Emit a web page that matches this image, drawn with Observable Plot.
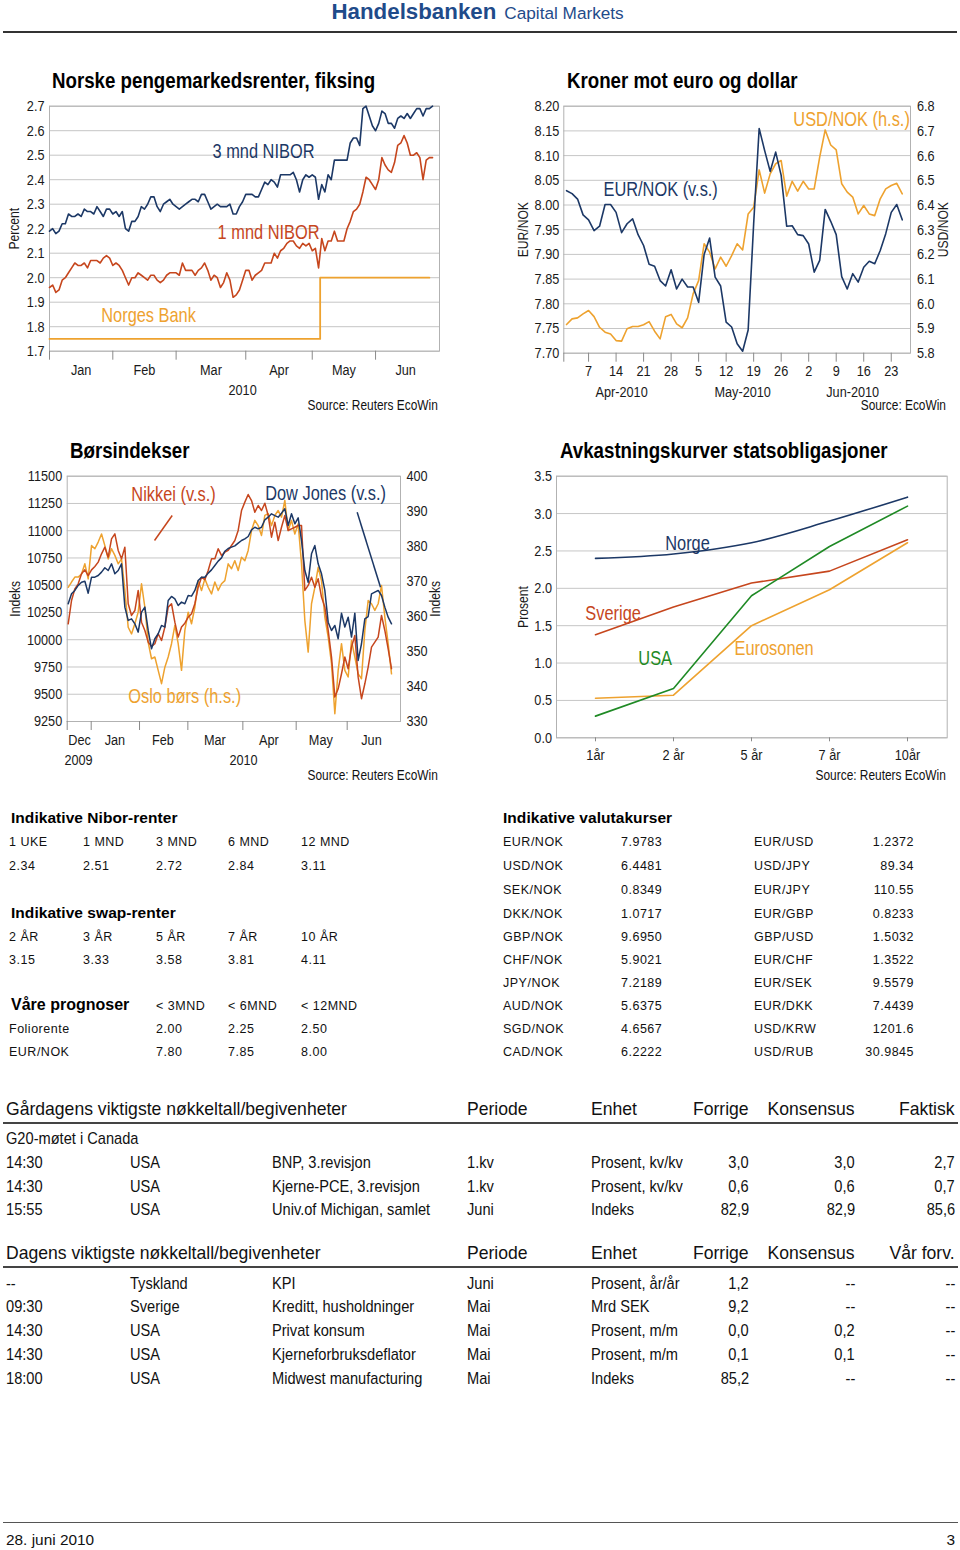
<!DOCTYPE html>
<html><head><meta charset="utf-8">
<script src="https://cdn.jsdelivr.net/npm/d3@7"></script>
<script src="https://cdn.jsdelivr.net/npm/@observablehq/plot@0.6"></script>
<style>
html,body{margin:0;padding:0;background:#fff;}
#page{position:relative;width:960px;height:1550px;overflow:hidden;background:#fff;}
.t{position:absolute;white-space:nowrap;line-height:1;}
.chart{position:absolute;}
</style></head><body><div id="page"></div>
<script>
// ---------------- DATA ----------------
// Chart 1: Norske pengemarkedsrenter (business-day samples, Jan-Jun 2010)
const nibor3m = [2.19,2.20,2.18,2.19,2.22,2.22,2.26,2.25,2.25,2.26,
2.25,2.28,2.27,2.27,2.26,2.29,2.27,2.25,2.28,2.28,
2.26,2.27,2.25,2.27,2.20,2.19,2.23,2.23,2.25,2.29,
2.28,2.30,2.33,2.33,2.29,2.27,2.30,2.31,2.32,2.30,
2.29,2.28,2.29,2.30,2.31,2.32,2.32,2.31,2.34,2.34,
2.31,2.28,2.29,2.30,2.29,2.29,2.29,2.30,2.26,2.26,
2.29,2.31,2.34,2.34,2.34,2.33,2.33,2.36,2.39,2.38,
2.40,2.39,2.37,2.42,2.42,2.42,2.42,2.43,2.40,2.35,
2.40,2.42,2.41,2.42,2.41,2.32,2.38,2.35,2.42,2.40,
2.48,2.48,2.48,2.48,2.48,2.55,2.57,2.57,2.54,2.69,
2.70,2.66,2.62,2.60,2.63,2.68,2.67,2.63,2.63,2.61,
2.65,2.66,2.65,2.67,2.65,2.67,2.69,2.69,2.66,2.69,
2.69,2.70];
const nibor1m = [1.96,1.97,1.94,1.95,1.99,2.00,2.02,2.04,2.06,2.05,
2.05,2.06,2.04,2.07,2.07,2.07,2.06,2.08,2.09,2.08,
2.05,2.06,2.05,2.03,2.00,1.97,2.00,2.00,2.02,2.01,
2.00,1.99,2.01,2.01,1.99,1.98,1.99,2.01,2.02,2.02,
2.02,2.01,2.06,2.03,2.03,2.03,2.01,2.03,2.04,2.06,
2.03,1.99,2.01,2.00,1.96,1.98,2.02,1.99,1.92,1.93,
1.95,1.99,2.03,2.03,1.99,2.01,2.02,2.03,2.06,2.06,
2.06,2.10,2.08,2.11,2.12,2.14,2.15,2.15,2.13,2.12,
2.14,2.13,2.14,2.11,2.12,2.04,2.16,2.11,2.15,2.15,
2.19,2.15,2.15,2.15,2.20,2.23,2.27,2.28,2.30,2.35,
2.41,2.40,2.38,2.36,2.40,2.49,2.46,2.44,2.43,2.47,
2.54,2.55,2.58,2.55,2.50,2.50,2.51,2.49,2.40,2.48,
2.49,2.49];
const normsDays = [0, 85.5, 120];          // business-day index of rate changes
const normsRate = [1.75, 2.00, 2.00];      // Norges Bank key rate
const yTicks1 = [1.7,1.8,1.9,2.0,2.1,2.2,2.3,2.4,2.5,2.6,2.7];
const monthStarts1 = [0, 20, 40, 62, 83, 103];
const monthMid1 = [10, 30, 51, 72.5, 93, 112.5];
const monthLabels1 = ["Jan","Feb","Mar","Apr","May","Jun"];

// Chart 2: Kroner mot euro og dollar (business days 1 Apr - 25 Jun 2010)
const eurnok = [8.029,8.023,8.012,7.98,7.97,7.948,7.957,8.001,8.001,7.985,
7.944,7.962,7.972,7.94,7.918,7.88,7.876,7.847,7.836,7.869,
7.83,7.85,7.834,7.834,7.803,7.90,7.933,7.854,7.836,7.763,
7.753,7.719,7.704,7.747,7.962,8.155,8.11,8.068,8.107,8.06,
7.957,7.958,7.94,7.938,7.921,7.864,7.888,7.991,7.967,7.94,
7.855,7.83,7.861,7.844,7.874,7.886,7.881,7.908,7.942,7.985,
8.001,7.97];
const usdnok = [5.916,5.939,5.943,5.959,5.973,5.948,5.905,5.885,5.878,5.851,
5.849,5.899,5.908,5.908,5.915,5.928,5.889,5.858,5.948,5.957,
5.919,5.903,5.943,6.04,6.094,6.243,6.209,6.141,6.189,6.152,
6.195,6.243,6.218,6.364,6.391,6.542,6.448,6.526,6.567,6.58,
6.436,6.496,6.456,6.496,6.465,6.465,6.594,6.704,6.643,6.623,
6.486,6.452,6.432,6.364,6.398,6.364,6.357,6.425,6.465,6.479,
6.488,6.445];
const eurTicks = [7.70,7.75,7.80,7.85,7.90,7.95,8.00,8.05,8.10,8.15,8.20];
const usdTicks = [5.8,5.9,6.0,6.1,6.2,6.3,6.4,6.5,6.6,6.7,6.8];
const weekPos = [4,9,14,19,24,29,34,39,44,49,54,59];
const weekLabels = ["7","14","21","28","5","12","19","26","2","9","16","23"];
const monthPos2 = [10, 32, 52];
const monthLabels2 = ["Apr-2010","May-2010","Jun-2010"];

// Chart 3: Børsindekser (Dec 2009 - Jun 2010)
const dowJones = [10330,10421,10452,10498,10528,10537,10427,10574,10574,10589,
10620,10660,10635,10696,10605,10635,10696,10299,10177,10192,
10146,10070,10253,10299,10085,9917,10009,10055,10131,10116,
10360,10397,10375,10314,10345,10330,10406,10400,10452,10543,
10574,10574,10611,10641,10681,10721,10751,10812,10837,10849,
10861,10886,10910,10925,10947,11008,11032,11017,11032,11100,
11124,11155,11139,11124,11161,11201,11048,11155,11063,11118,
10910,10635,10528,10788,10864,10696,10605,10452,10161,10085,
10131,10009,10244,10116,10207,10024,10244,9810,9963,10192,
10213,10421,10437,10452,10406,10299,10207,10146];
const nikkei = [10146,10360,10467,10513,10605,10641,10589,10641,10672,10712,
10788,10849,10757,10925,10971,10819,10742,10849,10330,10223,
10268,10452,10161,10085,9978,9938,9963,10055,9993,10116,
10299,10330,10161,10024,10116,10152,10207,10238,10330,10482,
10574,10550,10635,10742,10742,10834,10773,10803,10819,10864,
10910,11002,11185,11262,11332,11277,11170,11231,11185,11252,
11139,10941,11078,10910,11032,11139,11002,11017,11032,11048,
11048,10452,10498,10574,10482,10559,10391,10299,10085,9841,
9474,9550,9688,9841,9734,9932,10039,9657,9459,9596,
9749,9932,9978,10024,10223,10085,9917,9734];
const osloBors = [368.3,369.8,371.2,371.2,372.1,375.0,370.7,380.2,379.3,381.2,
383.5,380.2,376.4,379.3,377.4,375.0,376.4,367.4,356.9,355.0,
357.9,361.2,369.3,362.6,352.6,347.9,348.4,344.6,340.8,345.5,
348.4,352.2,357.4,352.2,344.6,356.0,361.2,357.9,362.6,370.2,
367.4,370.7,368.3,366.4,369.8,367.4,369.3,370.2,375.0,373.6,
375.9,373.1,376.9,375.9,378.8,384.5,387.4,385.9,383.1,388.8,
389.3,385.9,388.8,390.2,388.3,393.1,384.5,387.4,383.5,386.4,
375.0,358.8,349.8,363.6,368.3,374.0,370.2,359.8,354.1,346.5,
332.2,344.6,352.2,344.6,342.7,353.1,348.4,343.6,342.2,356.0,
364.5,363.6,361.7,363.6,368.8,359.8,352.2,343.6];
const leftTicks3 = [9250,9500,9750,10000,10250,10500,10750,11000,11250,11500];
const rightTicks3 = [330,340,350,360,370,380,390,400];
const monthStarts3 = [-0.3, 6.9, 21.4, 35.9, 52.4, 68.4, 83.7];
const monthMid3 = [3.4, 14, 28.4, 44, 60.2, 75.8, 91];
const monthLabels3 = ["Dec","Jan","Feb","Mar","Apr","May","Jun"];
const yearPos3 = [3.1, 52.6];
const yearLabels3 = ["2009","2010"];

// Chart 4: Avkastningskurver statsobligasjoner
const tenors = ["1år","2 år","5 år","7 år","10år"];
const yieldNorge = [2.40,2.46,2.61,2.90,3.22];
const yieldSverige = [1.38,1.75,2.07,2.23,2.65];
const yieldUSA = [0.29,0.66,1.90,2.56,3.10];
const yieldEuro = [0.53,0.57,1.50,1.98,2.61];
const yTicks4 = [0,0.5,1.0,1.5,2.0,2.5,3.0,3.5];

// Tables
const niborHead = ["1 UKE","1 MND","3 MND","6 MND","12 MND"];
const niborVals = ["2.34","2.51","2.72","2.84","3.11"];
const swapHead = ["2 ÅR","3 ÅR","5 ÅR","7 ÅR","10 ÅR"];
const swapVals = ["3.15","3.33","3.58","3.81","4.11"];
const progHead = ["< 3MND","< 6MND","< 12MND"];
const progRows = [["Foliorente","2.00","2.25","2.50"],["EUR/NOK","7.80","7.85","8.00"]];
const fxLeft = [["EUR/NOK","7.9783"],["USD/NOK","6.4481"],["SEK/NOK","0.8349"],["DKK/NOK","1.0717"],["GBP/NOK","9.6950"],["CHF/NOK","5.9021"],["JPY/NOK","7.2189"],["AUD/NOK","5.6375"],["SGD/NOK","4.6567"],["CAD/NOK","6.2222"]];
const fxRight = [["EUR/USD","1.2372"],["USD/JPY","89.34"],["EUR/JPY","110.55"],["EUR/GBP","0.8233"],["GBP/USD","1.5032"],["EUR/CHF","1.3522"],["EUR/SEK","9.5579"],["EUR/DKK","7.4439"],["USD/KRW","1201.6"],["USD/RUB","30.9845"]];
const yHead = ["Gårdagens viktigste nøkkeltall/begivenheter","Periode","Enhet","Forrige","Konsensus","Faktisk"];
const yNote = "G20-møtet i Canada";
const yRows = [["14:30","USA","BNP, 3.revisjon","1.kv","Prosent, kv/kv","3,0","3,0","2,7"],
["14:30","USA","Kjerne-PCE, 3.revisjon","1.kv","Prosent, kv/kv","0,6","0,6","0,7"],
["15:55","USA","Univ.of Michigan, samlet","Juni","Indeks","82,9","82,9","85,6"]];
const tHead = ["Dagens viktigste nøkkeltall/begivenheter","Periode","Enhet","Forrige","Konsensus","Vår forv."];
const tRows = [["--","Tyskland","KPI","Juni","Prosent, år/år","1,2","--","--"],
["09:30","Sverige","Kreditt, husholdninger","Mai","Mrd SEK","9,2","--","--"],
["14:30","USA","Privat konsum","Mai","Prosent, m/m","0,0","0,2","--"],
["14:30","USA","Kjerneforbruksdeflator","Mai","Prosent, m/m","0,1","0,1","--"],
["18:00","USA","Midwest manufacturing","Mai","Indeks","85,2","--","--"]];

// ---------------- STYLE ----------------
const NAVY = "#1c3866", RED = "#c6461d", ORANGE = "#eea22f", GREEN = "#1f8a25";
const GRID = "#c6c6c6", FRAME = "#b2b2b2", TICK = "#8a8a8a";
const SANS = "'Liberation Sans',Arial,Helvetica,sans-serif";
const NARROWK = 0.82;   // Arial Narrow ~ Arial scaled horizontally
const page = document.getElementById("page");

function put(str, x, y, o = {}) {
  const d = document.createElement("div");
  d.className = "t";
  d.textContent = str;
  const k = o.k || 1;
  const align = o.align || "left";
  let css = `top:${y}px;font-family:${o.family || SANS};font-size:${o.size || 15}px;font-weight:${o.weight || "normal"};color:${o.color || "#111"};letter-spacing:${o.ls || 0}px;`;
  if (align === "left") css += `left:${x}px;transform-origin:0 50%;transform:translateY(-50%) scaleX(${k});`;
  else if (align === "right") css += `right:${960 - x}px;transform-origin:100% 50%;transform:translateY(-50%) scaleX(${k});`;
  else css += `left:${x}px;transform-origin:50% 50%;transform:translate(-50%,-50%) scaleX(${k});`;
  d.style.cssText += css;
  page.appendChild(d);
  return d;
}
function hline(x1, x2, y, w, c) {
  const d = document.createElement("div");
  d.style.cssText = `position:absolute;left:${x1}px;top:${y}px;width:${x2 - x1}px;height:${w}px;background:${c};`;
  page.appendChild(d);
}
// squeeze SVG text horizontally about its anchor (narrow sans look)
function condense(svg, k) {
  svg.querySelectorAll("text").forEach(t => {
    if (t.closest('[aria-label="axistitle"]')) return;
    const xa = t.getAttribute("x"), ya = t.getAttribute("y");
    let tr = t.getAttribute("transform") || "";
    const x = parseFloat(xa), y = parseFloat(ya);
    if ((xa && !isNaN(x) && !/em/.test(xa)) || (ya && !isNaN(y) && !/em/.test(ya))) {
      tr += ` translate(${isNaN(x) ? 0 : x},${isNaN(y) ? 0 : y})`;
      t.removeAttribute("x"); t.removeAttribute("y");
    }
    t.setAttribute("transform", `${tr} scale(${k},1)`);
  });
  return svg;
}
function placeChart(svg, left, top) {
  const d = document.createElement("div");
  d.className = "chart";
  d.style.left = left + "px"; d.style.top = top + "px";
  d.appendChild(condense(svg, NARROWK));
  page.appendChild(d);
}
const plotStyle = {fontFamily: SANS, fontSize: "15.5px", color: "#1a1a1a", background: "transparent", overflow: "visible"};
const lab = (arr, pos) => { const m = new Map(pos.map((p, i) => [p, arr[i]])); return d => m.get(d); };
function annot(t, x, y, color, extra = {}) {
  return Plot.text([{t, x, y}], {x: "x", y: "y", text: "t", fill: color, fontSize: 20, ...extra});
}
function axisTitle(t, anchor, dx) {
  return Plot.text([t], {text: d => d, frameAnchor: anchor, rotate: -90, dx, fontSize: 14.8, textAnchor: "middle", lineAnchor: "middle", ariaLabel: "axistitle"});
}
function belowText(labels, pos, dy) {
  return Plot.text(labels, {x: (d, i) => pos[i], text: d => d, frameAnchor: "bottom", dy, lineAnchor: "middle", textAnchor: "middle"});
}

// ---------------- CHART 1 ----------------
const c1 = Plot.plot({
  width: 480, height: 320, marginLeft: 49, marginRight: 41, marginTop: 10.7, marginBottom: 64.3,
  style: plotStyle,
  x: {domain: [0, 123.2], label: null},
  y: {domain: [1.7, 2.7], label: null},
  marks: [
    Plot.gridY(yTicks1, {stroke: GRID, strokeOpacity: 1}),
    Plot.frame({stroke: FRAME}),
    Plot.axisY(yTicks1, {tickSize: 0, tickPadding: 5, tickFormat: d3.format(".1f"), label: null}),
    Plot.axisX(monthStarts1, {tickSize: 9, tickFormat: () => "", stroke: TICK, label: null}),
    Plot.axisX(monthMid1, {tickSize: 0, tickPadding: 13, tickFormat: lab(monthLabels1, monthMid1), label: null}),
    belowText(["2010"], [61], 39),
    axisTitle("Percent", "left", -35),
    Plot.line(normsRate, {x: (d, i) => normsDays[i], y: d => d, curve: "step-after", stroke: ORANGE, strokeWidth: 1.8}),
    Plot.line(nibor1m, {x: (d, i) => i, y: d => d, stroke: RED, strokeWidth: 1.6}),
    Plot.line(nibor3m, {x: (d, i) => i, y: d => d, stroke: NAVY, strokeWidth: 1.6}),
    annot("3 mnd NIBOR", 67.6, 2.515, NAVY),
    annot("1 mnd NIBOR", 69.2, 2.184, RED),
    annot("Norges Bank", 31.3, 1.846, ORANGE)
  ]
});
placeChart(c1, 0, 95);

// ---------------- CHART 2 ----------------
const usdToEur = v => 7.70 + (v - 5.8) * 0.5;
const eurToUsd = v => 5.8 + (v - 7.70) * 2;
const c2 = Plot.plot({
  width: 480, height: 320, marginLeft: 83.3, marginRight: 50, marginTop: 10.7, marginBottom: 62.3,
  style: plotStyle,
  x: {domain: [-0.5, 62.5], label: null},
  y: {domain: [7.70, 8.20], label: null},
  marks: [
    Plot.gridY(eurTicks, {stroke: GRID, strokeOpacity: 1}),
    Plot.frame({stroke: FRAME}),
    Plot.axisY(eurTicks, {tickSize: 0, tickPadding: 4.5, tickFormat: d3.format(".2f"), label: null}),
    Plot.axisY(usdTicks.map(usdToEur), {anchor: "right", tickSize: 0, tickPadding: 6.5, tickFormat: d => eurToUsd(d).toFixed(1), label: null}),
    Plot.axisX([-0.5, ...weekPos], {tickSize: 9, tickFormat: () => "", stroke: TICK, label: null}),
    Plot.axisX(weekPos, {tickSize: 0, tickPadding: 12, tickFormat: lab(weekLabels, weekPos), label: null}),
    belowText(monthLabels2, monthPos2, 39),
    axisTitle("EUR/NOK", "left", -40.6),
    axisTitle("USD/NOK", "right", 33),
    Plot.line(usdnok, {x: (d, i) => i, y: d => usdToEur(d), stroke: ORANGE, strokeWidth: 1.6}),
    Plot.line(eurnok, {x: (d, i) => i, y: d => d, stroke: NAVY, strokeWidth: 1.6}),
    annot("EUR/NOK (v.s.)", 17.1, 8.031, NAVY),
    annot("USD/NOK (h.s.)", 51.8, 8.173, ORANGE)
  ]
});
placeChart(c2, 480, 95);

// ---------------- CHART 3 ----------------
const osloToLeft = v => 9250 + (v - 330) * 2250 / 70;
const leftToOslo = v => 330 + (v - 9250) * 70 / 2250;
const c3 = Plot.plot({
  width: 480, height: 320, marginLeft: 66.7, marginRight: 80, marginTop: 10.7, marginBottom: 64,
  style: plotStyle,
  x: {domain: [-0.3, 99.7], label: null},
  y: {domain: [9250, 11500], label: null},
  marks: [
    Plot.gridY(leftTicks3, {stroke: GRID, strokeOpacity: 1}),
    Plot.frame({stroke: FRAME}),
    Plot.axisY(leftTicks3, {tickSize: 0, tickPadding: 5, tickFormat: d => String(d), label: null}),
    Plot.axisY(rightTicks3.map(osloToLeft), {anchor: "right", tickSize: 0, tickPadding: 6, tickFormat: d => String(Math.round(leftToOslo(d))), label: null}),
    Plot.axisX(monthStarts3, {tickSize: 9, tickFormat: () => "", stroke: TICK, label: null}),
    Plot.axisX(monthMid3, {tickSize: 0, tickPadding: 12.5, tickFormat: lab(monthLabels3, monthMid3), label: null}),
    belowText(yearLabels3, yearPos3, 39),
    axisTitle("Indeks", "left", -51.7),
    axisTitle("Indeks", "right", 35),
    Plot.line(osloBors, {x: (d, i) => i, y: d => osloToLeft(d), stroke: ORANGE, strokeWidth: 1.5}),
    Plot.line(nikkei, {x: (d, i) => i, y: d => d, stroke: RED, strokeWidth: 1.5}),
    Plot.line(dowJones, {x: (d, i) => i, y: d => d, stroke: NAVY, strokeWidth: 1.5}),
    Plot.link([{x1: 31.2, y1: 11139, x2: 25.9, y2: 10910}], {x1: "x1", y1: "y1", x2: "x2", y2: "y2", stroke: RED, strokeWidth: 1.5}),
    Plot.link([{x1: 86.7, y1: 11170, x2: 93.7, y2: 10482}], {x1: "x1", y1: "y1", x2: "x2", y2: "y2", stroke: NAVY, strokeWidth: 1.5}),
    annot("Nikkei (v.s.)", 31.6, 11332, RED),
    annot("Dow Jones (v.s.)", 77.2, 11341, NAVY),
    annot("Oslo børs (h.s.)", 34.95, 9479, ORANGE)
  ]
});
placeChart(c3, 0, 465);

// ---------------- CHART 4 ----------------
const c4 = Plot.plot({
  width: 480, height: 320, marginLeft: 76, marginRight: 13.3, marginTop: 10.7, marginBottom: 47.7,
  style: plotStyle,
  x: {type: "point", domain: tenors, padding: 0.5, label: null},
  y: {domain: [0, 3.5], label: null},
  marks: [
    Plot.gridY(yTicks4, {stroke: GRID, strokeOpacity: 1}),
    Plot.frame({stroke: FRAME}),
    Plot.axisY(yTicks4, {tickSize: 0, tickPadding: 4.5, tickFormat: d3.format(".1f"), label: null}),
    Plot.axisX(tenors, {tickSize: 4, tickPadding: 7, stroke: TICK, label: null}),
    axisTitle("Prosent", "left", -33.3),
    Plot.line(yieldEuro, {x: (d, i) => tenors[i], y: d => d, stroke: ORANGE, strokeWidth: 1.6}),
    Plot.line(yieldSverige, {x: (d, i) => tenors[i], y: d => d, stroke: RED, strokeWidth: 1.6}),
    Plot.line(yieldUSA, {x: (d, i) => tenors[i], y: d => d, stroke: GREEN, strokeWidth: 1.6}),
    Plot.line(yieldNorge, {x: (d, i) => tenors[i], y: d => d, stroke: NAVY, strokeWidth: 1.6, curve: "monotone-x"}),
    Plot.text([{t: "Norge", x: "2 år", y: 2.596}], {x: "x", y: "y", text: "t", fill: NAVY, fontSize: 20, dx: 14}),
    Plot.text([{t: "Sverige", x: "1år", y: 1.659}], {x: "x", y: "y", text: "t", fill: RED, fontSize: 20, dx: 17.6}),
    Plot.text([{t: "USA", x: "2 år", y: 1.057}], {x: "x", y: "y", text: "t", fill: GREEN, fontSize: 20, dx: -18.3}),
    Plot.text([{t: "Eurosonen", x: "5 år", y: 1.191}], {x: "x", y: "y", text: "t", fill: ORANGE, fontSize: 20, dx: 22.6})
  ]
});
placeChart(c4, 480, 465);

// ---------------- HEADER / TITLES ----------------
const hdr = document.createElement("div");
hdr.style.cssText = `position:absolute;left:331.5px;top:1px;white-space:nowrap;line-height:1;font-family:${SANS};color:#1f4b8a;`;
hdr.innerHTML = `<span style="font-size:22.3px;font-weight:bold;">Handelsbanken</span><span style="font-size:17.2px;margin-left:8px;">Capital Markets</span>`;
page.appendChild(hdr);
hline(3, 957, 30.5, 2, "#333");

const ttl = {size: 22.8, weight: "bold", k: NARROWK, color: "#000"};
put("Norske pengemarkedsrenter, fiksing", 52, 80, ttl);
put("Kroner mot euro og dollar", 567, 80, ttl);
put("Børsindekser", 70, 450, ttl);
put("Avkastningskurver statsobligasjoner", 560, 450, ttl);
const src = {size: 14.5, k: NARROWK, align: "right", color: "#111"};
put("Source: Reuters EcoWin", 438, 405, src);
put("Source: EcoWin", 946, 405, src);
put("Source: Reuters EcoWin", 438, 775, src);
put("Source: Reuters EcoWin", 946, 775, src);

// ---------------- SMALL TABLES ----------------
const tcol = [9, 83, 156, 228, 301];
const tf = {size: 12.5, ls: 0.5, color: "#111"};
const th = {size: 15.5, weight: "bold", ls: 0.05, color: "#000"};
put("Indikative Nibor-renter", 11, 818, th);
niborHead.forEach((s, i) => put(s, tcol[i], 842, tf));
niborVals.forEach((s, i) => put(s, tcol[i], 866, tf));
put("Indikative swap-renter", 11, 913, th);
swapHead.forEach((s, i) => put(s, tcol[i], 937, tf));
swapVals.forEach((s, i) => put(s, tcol[i], 960, tf));
put("Våre prognoser", 11, 1005, {...th, size: 16, ls: 0});
progHead.forEach((s, i) => put(s, tcol[i + 2], 1006, tf));
progRows.forEach((r, j) => { put(r[0], tcol[0], 1029 + j * 23, tf); r.slice(1).forEach((s, i) => put(s, tcol[i + 2], 1029 + j * 23, tf)); });

put("Indikative valutakurser", 503, 818, th);
const fxY = [842, 866, 890, 914, 937, 960, 983, 1006, 1029, 1052];
fxLeft.forEach((r, j) => { put(r[0], 503, fxY[j], tf); put(r[1], 621, fxY[j], tf); });
fxRight.forEach((r, j) => { put(r[0], 754, fxY[j], tf); put(r[1], 914, fxY[j], {...tf, align: "right"}); });

// ---------------- EVENT TABLES ----------------
const eh = {size: 18.5, k: 0.95, color: "#111"};
const ef = {size: 17, k: 0.86, color: "#111"};
const ecol = [6, 130, 272, 467, 591];
const eright = [749, 855, 955];
function evHead(h, y) {
  put(h[0], 6, y, eh); put(h[1], 467, y, eh); put(h[2], 591, y, eh);
  put(h[3], 749, y, {...eh, align: "right"}); put(h[4], 855, y, {...eh, align: "right"}); put(h[5], 955, y, {...eh, align: "right"});
}
function evRow(r, y) {
  r.slice(0, 5).forEach((s, i) => put(s, ecol[i], y, ef));
  r.slice(5).forEach((s, i) => put(s, eright[i], y, {...ef, align: "right"}));
}
evHead(yHead, 1109);
hline(3, 958, 1121.5, 2, "#444");
put(yNote, 6, 1138, ef);
[1162, 1186, 1209].forEach((y, j) => evRow(yRows[j], y));
evHead(tHead, 1253);
hline(3, 958, 1266, 2, "#444");
[1283, 1306, 1330, 1354, 1378].forEach((y, j) => evRow(tRows[j], y));

// ---------------- FOOTER ----------------
hline(3, 958, 1522, 1, "#555");
put("28. juni 2010", 6, 1540, {size: 15.4});
put("3", 955, 1540, {size: 15.4, align: "right"});
</script></body></html>
